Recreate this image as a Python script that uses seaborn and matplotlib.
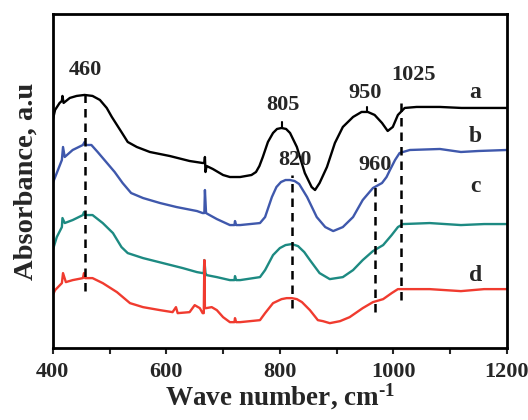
import numpy as np
import pandas as pd
import matplotlib
matplotlib.use("Agg")
import matplotlib.pyplot as plt
import seaborn as sns

# ---- data (absorbance in arbitrary units) ----
wn_a = [400, 404, 412, 416, 417, 419, 430, 442, 456, 470, 483, 495, 504, 513, 522, 532, 548, 571, 606, 641, 664,
        667, 668, 669, 671, 682, 700, 712, 730, 750, 758, 764, 770, 779, 788, 795, 803, 811, 818, 830, 844, 856,
        862, 870, 883, 897, 911, 929, 944, 955, 967, 980, 990, 999, 1008, 1020, 1041, 1082, 1120, 1160, 1200]
ab_a = [2.28, 2.38, 2.45, 2.47, 2.52, 2.45, 2.50, 2.52, 2.53, 2.52, 2.48, 2.40, 2.31, 2.23, 2.15, 2.06, 2.01, 1.96,
        1.92, 1.87, 1.85, 1.85, 1.91, 1.76, 1.82, 1.79, 1.73, 1.71, 1.71, 1.73, 1.76, 1.82, 1.91, 2.06, 2.15, 2.19,
        2.20, 2.19, 2.15, 2.01, 1.75, 1.61, 1.58, 1.65, 1.81, 2.05, 2.21, 2.31, 2.36, 2.36, 2.33, 2.25, 2.17, 2.21,
        2.33, 2.40, 2.41, 2.41, 2.40, 2.40, 2.40]

wn_b = [400, 407, 416, 418, 421, 435, 453, 456, 458, 468, 479, 494, 509, 523, 538, 559, 589, 618, 654, 664, 667,
        668, 670, 673, 689, 712, 720, 721, 723, 730, 765, 774, 786, 794, 802, 810, 818, 826, 834, 848, 865, 880,
        894, 911, 929, 946, 964, 980, 988, 994, 1003, 1011, 1029, 1082, 1119, 1150, 1200]
ab_b = [1.65, 1.75, 1.88, 2.01, 1.91, 1.98, 2.03, 2.06, 2.03, 2.03, 1.96, 1.86, 1.76, 1.65, 1.55, 1.50, 1.45, 1.41,
        1.37, 1.35, 1.35, 1.58, 1.35, 1.34, 1.29, 1.23, 1.23, 1.27, 1.23, 1.23, 1.25, 1.31, 1.51, 1.61, 1.66, 1.68,
        1.68, 1.67, 1.64, 1.51, 1.31, 1.21, 1.17, 1.21, 1.31, 1.48, 1.60, 1.65, 1.71, 1.78, 1.88, 1.95, 1.98, 1.99,
        1.96, 1.97, 1.98]

wn_c = [400, 407, 416, 417, 421, 435, 453, 455, 457, 470, 488, 506, 521, 532, 559, 594, 629, 654, 664, 666, 667,
        669, 671, 689, 712, 720, 721, 723, 730, 765, 774, 788, 800, 810, 821, 832, 843, 853, 870, 888, 911, 929,
        946, 964, 982, 997, 1008, 1017, 1064, 1119, 1160, 1200]
ab_c = [0.98, 1.11, 1.21, 1.30, 1.25, 1.28, 1.33, 1.36, 1.33, 1.33, 1.25, 1.15, 1.01, 0.95, 0.90, 0.85, 0.80, 0.76,
        0.75, 0.75, 0.88, 0.75, 0.73, 0.71, 0.68, 0.68, 0.72, 0.68, 0.68, 0.71, 0.78, 0.93, 1.00, 1.03, 1.04, 1.02,
        0.96, 0.88, 0.75, 0.69, 0.71, 0.78, 0.88, 0.97, 1.03, 1.13, 1.21, 1.24, 1.25, 1.23, 1.24, 1.24]

wn_d = [400, 404, 416, 418, 423, 435, 453, 455, 457, 470, 488, 513, 536, 559, 589, 611, 617, 620, 641, 650, 659,
        664, 666, 667, 668, 670, 680, 689, 700, 712, 720, 721, 723, 730, 765, 774, 788, 803, 812, 821, 830, 839,
        853, 867, 876, 888, 906, 923, 946, 964, 982, 997, 1008, 1064, 1119, 1160, 1200]
ab_d = [0.53, 0.58, 0.65, 0.75, 0.66, 0.68, 0.70, 0.75, 0.70, 0.70, 0.65, 0.56, 0.45, 0.41, 0.38, 0.36, 0.41, 0.35,
        0.36, 0.43, 0.40, 0.35, 0.35, 0.88, 0.40, 0.40, 0.41, 0.38, 0.31, 0.26, 0.26, 0.30, 0.26, 0.26, 0.28, 0.35,
        0.45, 0.49, 0.50, 0.50, 0.49, 0.46, 0.38, 0.28, 0.27, 0.25, 0.27, 0.31, 0.40, 0.46, 0.49, 0.55, 0.59, 0.59,
        0.57, 0.59, 0.59]

series_labels = ["a", "b", "c", "d"]
series_colors = ["#000000", "#3f58ac", "#1d8a82", "#f03b2f"]

# dashed guide lines: position, y-from, y-to
guide_pos = [456, 821, 968, 1014]
guide_lo = [0.57, 0.40, 0.36, 0.48]
guide_hi = [2.60, 1.73, 1.70, 2.51]
# short peak markers
mark_pos = [803, 953]
mark_lo = [2.20, 2.36]
mark_hi = [2.26, 2.41]

peak_texts = ["460", "805", "950", "1025", "820", "960"]
peak_tx = [457, 805, 950, 1035, 827, 967]
peak_ty = [2.78, 2.43, 2.55, 2.73, 1.88, 1.83]
letter_ty = [2.55, 2.11, 1.62, 0.73]

xticks = [400, 600, 800, 1000, 1200]

sns.set_style("ticks")
plt.rcParams["font.family"] = ["Liberation Serif", "DejaVu Serif"]
plt.rcParams["mathtext.fontset"] = "custom"
plt.rcParams["mathtext.rm"] = "Liberation Serif:bold"
plt.rcParams["mathtext.bf"] = "Liberation Serif:bold"
plt.rcParams["mathtext.it"] = "Liberation Serif:bold"

fig = plt.figure(figsize=(5.28, 4.2), dpi=100)
ax = fig.add_axes([0.100, 0.171, 0.860, 0.796])

frames = []
for lab, w, v in zip(series_labels, [wn_a, wn_b, wn_c, wn_d], [ab_a, ab_b, ab_c, ab_d]):
    frames.append(pd.DataFrame({"wn": w, "abs": v, "s": lab}))
df = pd.concat(frames, ignore_index=True)

sns.lineplot(data=df, x="wn", y="abs", hue="s", palette=dict(zip(series_labels, series_colors)),
             sort=False, estimator=None, lw=1.7, legend=False, ax=ax)
for ln in ax.get_lines():
    ln.set_solid_joinstyle("round")
    ln.set_solid_capstyle("round")

for p, lo, hi in zip(guide_pos, guide_lo, guide_hi):
    ax.plot([p, p], [lo, hi], color="black", lw=1.8, linestyle=(0, (3.4, 2.4)))
for p, lo, hi in zip(mark_pos, mark_lo, mark_hi):
    ax.plot([p, p], [lo, hi], color="black", lw=1.5)

for t, x, y in zip(peak_texts, peak_tx, peak_ty):
    ax.text(x, y, t, ha="center", va="center", fontsize=16, fontweight="bold", family="Liberation Serif")
for lab, y in zip(series_labels, letter_ty):
    ax.text(1145, y, lab, ha="center", va="center", fontsize=17, fontweight="bold", family="Liberation Serif")

ax.set_xlim(400, 1200)
ax.set_ylim(0, 3.34)
ax.set_xticks(xticks)
ax.set_xticks([500, 700, 900, 1100], minor=True)
ax.set_yticks([])
ax.tick_params(axis="x", which="both", direction="out", length=4, width=1.5, labelsize=16, pad=6)
for lbl in ax.get_xticklabels():
    lbl.set_fontweight("bold")
for sp in ax.spines.values():
    sp.set_visible(True)
    sp.set_linewidth(2.0)
    sp.set_color("black")

ax.set_xlabel("Wave number, cm$^{\\text{-1}}$", fontsize=19.5, fontweight="bold", labelpad=0)
ax.set_ylabel("Absorbance, a.u", fontsize=20.5, fontweight="bold", labelpad=10)

fig.savefig("out.png", dpi=100)
